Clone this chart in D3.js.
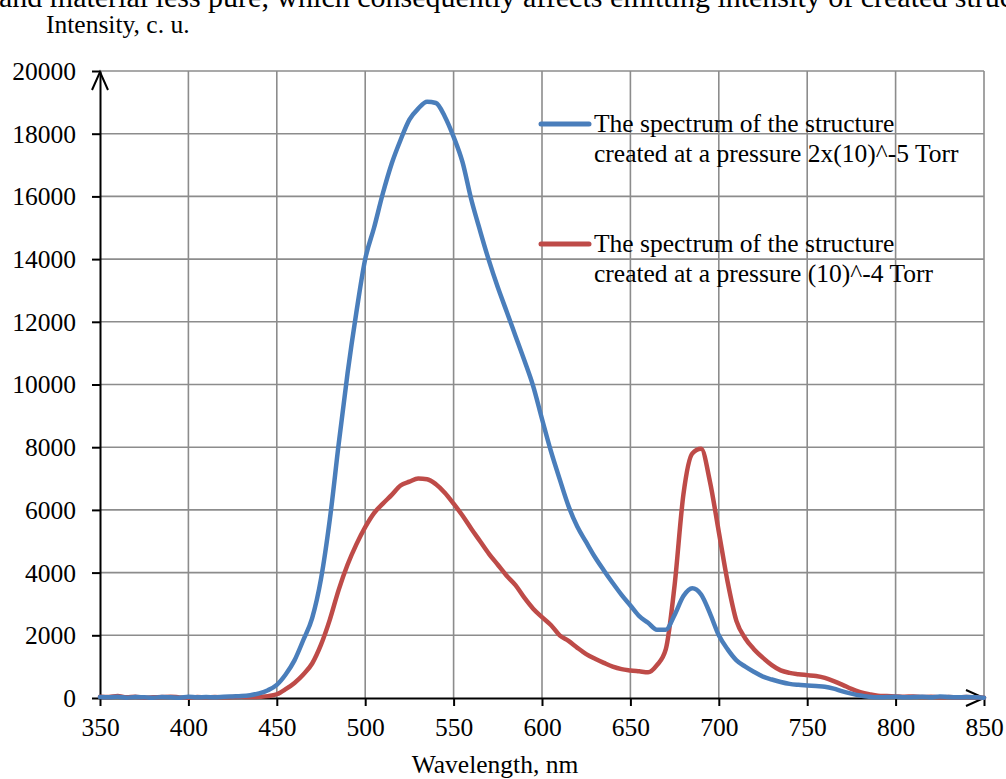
<!DOCTYPE html>
<html>
<head>
<meta charset="utf-8">
<script src="https://cdn.jsdelivr.net/npm/d3@7"></script>
<style>
  body { margin: 0; background: #fff; overflow: hidden; }
  text { font-family: "Liberation Serif", "Times New Roman", serif; fill: #000; }
</style>
</head>
<body>
<div id="chart"></div>
<script>
const width = 1006;
const height = 779;

// data (5 nm steps)
const wavelengths = [
  350, 355, 360, 365, 370, 375, 380, 385, 390, 395,
  400, 405, 410, 415, 420, 425, 430, 435, 440, 445,
  450, 455, 460, 465, 470, 475, 480, 485, 490, 495,
  500, 505, 510, 515, 520, 525, 530, 535, 540, 545,
  550, 555, 560, 565, 570, 575, 580, 585, 590, 595,
  600, 605, 610, 615, 620, 625, 630, 635, 640, 645,
  650, 655, 660, 665, 670, 675, 680, 685, 690, 695,
  700, 705, 710, 715, 720, 725, 730, 735, 740, 745,
  750, 755, 760, 765, 770, 775, 780, 785, 790, 795,
  800, 805, 810, 815, 820, 825, 830, 835, 840, 845, 850
];
const blueSpectrum = [
  30, 20, 40, 10, 30, 20, 10, 30, 20, 10,
  40, 20, 30, 20, 40, 50, 60, 90, 150, 250,
  420, 750, 1200, 1850, 2550, 3800, 5700, 8100, 10350, 12300,
  14000, 15000, 16100, 17050, 17800, 18450, 18800, 19020, 18980, 18550,
  17900, 17100, 15900, 14900, 13950, 13100, 12330, 11550, 10770, 9950,
  8900, 7880, 6980, 6120, 5460, 4970, 4490, 4070, 3670, 3290,
  2950, 2610, 2400, 2180, 2180, 2650, 3250, 3500, 3300, 2700,
  2000, 1550, 1200, 1000, 830, 680, 590, 510, 450, 420,
  400, 380, 360, 300, 210, 140, 80, 40, 20, 30,
  40, 20, 30, 40, 20, 50, 30, 20, 30, 20, 10
];
const redSpectrum = [
  40, 30, 60, 20, 40, 10, 20, 30, 40, 20,
  10, 30, 20, 30, 20, 30, 40, 30, 40, 60,
  120, 280, 480, 750, 1100, 1700, 2500, 3450, 4250, 4900,
  5450, 5900, 6200, 6480, 6780, 6900, 7000, 6980, 6820, 6550,
  6200, 5820, 5400, 5000, 4600, 4250, 3900, 3600, 3200, 2850,
  2580, 2330, 2000, 1820, 1600, 1400, 1250, 1120, 1000, 920,
  880, 850, 820, 1050, 1550, 3600, 6500, 7800, 7950, 6900,
  5300, 3700, 2450, 1900, 1550, 1280, 1050, 880, 800, 760,
  730, 700, 640, 540, 420, 290, 190, 120, 70, 60,
  50, 40, 50, 30, 40, 20, 30, 20, 30, 20, 10
];
const xTicks = [350, 400, 450, 500, 550, 600, 650, 700, 750, 800, 850];
const yTicks = [0, 2000, 4000, 6000, 8000, 10000, 12000, 14000, 16000, 18000, 20000];
const legendLabels = [
  ["The spectrum of the structure", "created at a pressure 2x(10)^-5 Torr"],
  ["The spectrum of the structure", "created at a pressure (10)^-4 Torr"]
];
const seriesColors = ["#4a7ebb", "#be4b48"];

// plot frame
const plotLeft = 100, plotRight = 984, plotTop = 71, plotBottom = 698;
const fontSize = "25.5px";

const x = d3.scaleLinear().domain([350, 850]).range([plotLeft, plotRight]);
const y = d3.scaleLinear().domain([0, 20000]).range([plotBottom, plotTop]);

const svg = d3
  .select("#chart")
  .append("svg")
  .attr("width", width)
  .attr("height", height);

// line of body text above the figure, cut by the top edge
svg.append("text")
  .attr("x", -1)
  .attr("y", 7)
  .style("font-size", "30px")
  .text("and material less pure, which consequently affects emitting intensity of created struc");

svg.append("text")
  .attr("x", 46)
  .attr("y", 33)
  .style("font-size", fontSize)
  .text("Intensity, c. u.");

// grid ////////////////////////////////
const grid = svg.append("g");
grid.selectAll(".vgrid")
  .data(xTicks.slice(1))
  .enter()
  .append("line")
  .attr("x1", d => x(d))
  .attr("x2", d => x(d))
  .attr("y1", plotTop)
  .attr("y2", plotBottom)
  .style("stroke", "#8c8c8c")
  .style("stroke-width", "1.6px");
grid.selectAll(".hgrid")
  .data(yTicks.slice(1))
  .enter()
  .append("line")
  .attr("x1", plotLeft)
  .attr("x2", plotRight)
  .attr("y1", d => y(d))
  .attr("y2", d => y(d))
  .style("stroke", "#8c8c8c")
  .style("stroke-width", "1.6px");

// axes ////////////////////////////////
const xAxis = svg.append("g")
  .attr("transform", `translate(0,${plotBottom})`)
  .call(d3.axisBottom(x).tickValues(xTicks).tickSize(8).tickSizeOuter(0).tickPadding(12));
const yAxis = svg.append("g")
  .attr("transform", `translate(${plotLeft},0)`)
  .call(d3.axisLeft(y).tickValues(yTicks).tickSize(8).tickSizeOuter(0).tickPadding(16).tickFormat(d3.format("d")));

[xAxis, yAxis].forEach(a => {
  a.attr("font-family", null).attr("font-size", null);
  a.select(".domain").style("stroke", "#000").style("stroke-width", "2px");
  a.selectAll(".tick line").style("stroke", "#000").style("stroke-width", "2px");
  a.selectAll("text")
    .style("font-family", "'Liberation Serif', 'Times New Roman', serif")
    .style("font-size", fontSize)
    .attr("fill", "#000");
});
yAxis.selectAll("text").attr("dy", "0.33em");

// arrow heads
svg.append("path")
  .attr("d", `M${plotLeft - 8},${plotTop + 19}L${plotLeft},${plotTop + 1}L${plotLeft + 8},${plotTop + 19}`)
  .style("fill", "none")
  .style("stroke", "#000")
  .style("stroke-width", "2px");
svg.append("path")
  .attr("d", `M${plotRight - 18},${plotBottom - 8}L${plotRight},${plotBottom}L${plotRight - 18},${plotBottom + 8}`)
  .style("fill", "none")
  .style("stroke", "#000")
  .style("stroke-width", "2px");

svg.append("text")
  .attr("x", 495)
  .attr("y", 773)
  .attr("text-anchor", "middle")
  .style("font-size", fontSize)
  .text("Wavelength, nm");

// spectra ////////////////////////////
const line = d3.line()
  .x(d => x(d[0]))
  .y(d => y(d[1]))
  .curve(d3.curveMonotoneX);

const drawSpectrum = (values, color) => {
  svg.append("path")
    .datum(wavelengths.map((w, i) => [w, values[i]]))
    .attr("d", line)
    .style("fill", "none")
    .style("stroke", color)
    .style("stroke-width", "4.5px")
    .style("stroke-linejoin", "round")
    .style("stroke-linecap", "round");
};

drawSpectrum(redSpectrum, seriesColors[1]);
drawSpectrum(blueSpectrum, seriesColors[0]);

// legend //////////////////////////////
const legendY = [124, 244];
legendLabels.forEach((lines, i) => {
  const g = svg.append("g");
  g.append("line")
    .attr("x1", 541)
    .attr("x2", 589)
    .attr("y1", legendY[i])
    .attr("y2", legendY[i])
    .style("stroke", seriesColors[i])
    .style("stroke-width", "5px")
    .style("stroke-linecap", "round");
  lines.forEach((t, j) => {
    g.append("text")
      .attr("x", 594)
      .attr("y", legendY[i] + 8 + j * 30)
      .style("font-size", fontSize)
      .text(t);
  });
});
</script>
</body>
</html>
